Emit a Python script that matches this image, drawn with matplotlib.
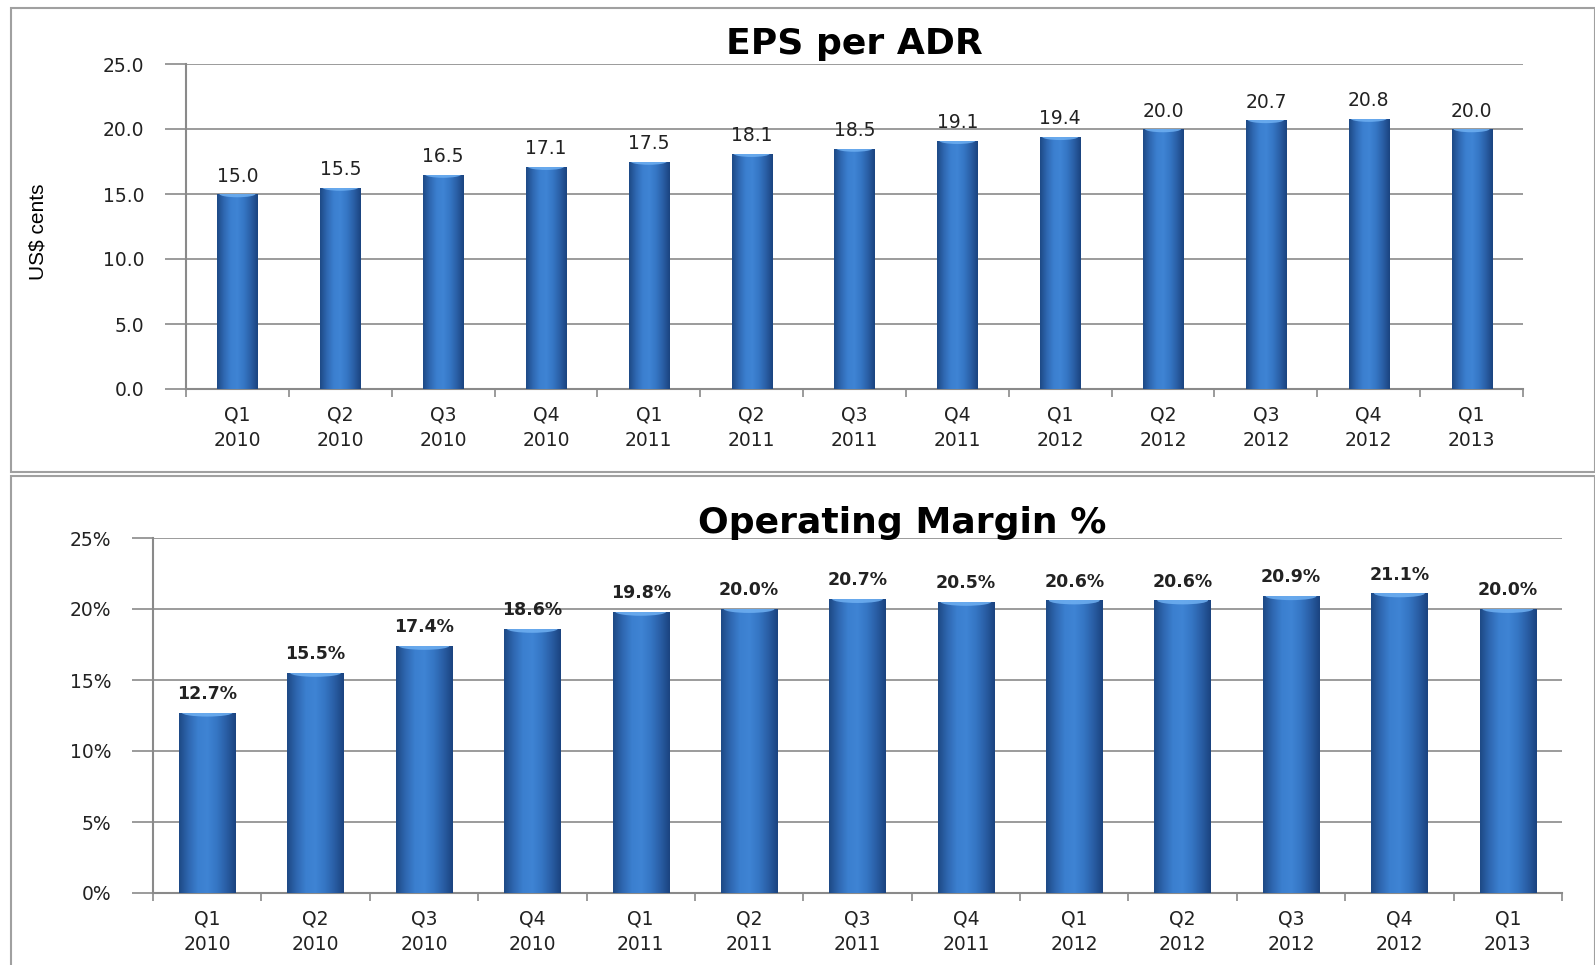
import numpy as np
import matplotlib
matplotlib.use('Agg')
import matplotlib.pyplot as plt
from matplotlib.colors import LinearSegmentedColormap
from matplotlib.patches import Rectangle, Ellipse
from matplotlib.ticker import FuncFormatter

# Data
quarters = ['Q1\n2010', 'Q2\n2010', 'Q3\n2010', 'Q4\n2010', 'Q1\n2011', 'Q2\n2011', 'Q3\n2011',
            'Q4\n2011', 'Q1\n2012', 'Q2\n2012', 'Q3\n2012', 'Q4\n2012', 'Q1\n2013']
eps = [15.0, 15.5, 16.5, 17.1, 17.5, 18.1, 18.5, 19.1, 19.4, 20.0, 20.7, 20.8, 20.0]
op_margin = [12.7, 15.5, 17.4, 18.6, 19.8, 20.0, 20.7, 20.5, 20.6, 20.6, 20.9, 21.1, 20.0]

plt.rcParams['font.family'] = ['DejaVu Sans']

# horizontal shading so the bars look like the cylinder style of the original
bar_cmap = LinearSegmentedColormap.from_list(
    'cyl', ['#1e4a86', '#2f68b2', '#3b7fcf', '#3f84d4', '#3576c4', '#2a5fa6', '#1b4480'])
grad = np.linspace(0, 1, 64).reshape(1, -1)


def shade_bars(ax, bars, cap_h):
    for b in bars:
        x0, y0 = b.get_x(), b.get_y()
        w, h = b.get_width(), b.get_height()
        im = ax.imshow(grad, cmap=bar_cmap, aspect='auto', extent=(x0, x0 + w, y0, y0 + h),
                       zorder=3, interpolation='bicubic')
        im.set_clip_path(b)
        # lighter cap at the top of each bar
        cap = Ellipse((x0 + w / 2, y0 + h), w * 0.9, cap_h, facecolor='#6fb0f2',
                      edgecolor='none', alpha=0.85, zorder=4)
        ax.add_patch(cap)
        cap.set_clip_path(b)
        b.set_facecolor('none')


def style_axes(ax, ymax, step):
    ax.set_ylim(0, ymax)
    ax.set_yticks(np.arange(0, ymax + 0.01, step))
    ax.set_xlim(-0.5, len(quarters) - 0.5)
    ax.grid(axis='y', color='#8a8a8a', linewidth=1.2, zorder=0)
    ax.set_axisbelow(True)
    for s in ['top', 'right']:
        ax.spines[s].set_visible(False)
    ax.spines['left'].set_color('#8a8a8a')
    ax.spines['left'].set_linewidth(1.5)
    ax.spines['bottom'].set_color('#8a8a8a')
    ax.spines['bottom'].set_linewidth(1.5)
    ax.tick_params(axis='y', length=15, width=1.2, color='#8a8a8a', labelsize=13.5, pad=15)
    ax.tick_params(axis='x', which='major', length=0, labelsize=13.5, pad=12)
    ax.set_xticks(range(len(quarters)))
    ax.set_xticklabels(quarters, linespacing=1.45, color='#222222')
    ax.set_xticks(np.arange(-0.5, len(quarters)), minor=True)
    ax.tick_params(axis='x', which='minor', length=6, width=1.2, color='#8a8a8a')
    for lab in ax.get_yticklabels():
        lab.set_color('#222222')


fig = plt.figure(figsize=(15.95, 9.65), dpi=100)

# panel frames
fig.patches.append(Rectangle((11 / 1595, 1 - 472 / 965), 1 - 11 / 1595, (472 - 8) / 965,
                             transform=fig.transFigure, fill=False, edgecolor='#a0a0a0', lw=1.5))
fig.patches.append(Rectangle((11 / 1595, -0.01), 1 - 11 / 1595, 1 - 476 / 965 + 0.01,
                             transform=fig.transFigure, fill=False, edgecolor='#a0a0a0', lw=1.5))

# EPS per ADR
ax1 = fig.add_axes([186 / 1595, 1 - 389 / 965, (1523 - 186) / 1595, (389 - 64) / 965])
bars1 = ax1.bar(range(len(quarters)), eps, width=0.39, color='#3a7ccc', zorder=3)
shade_bars(ax1, bars1, 0.5)
style_axes(ax1, 25, 5)
ax1.yaxis.set_major_formatter(FuncFormatter(lambda v, p: f'{v:.1f}'))
for i, v in enumerate(eps):
    ax1.annotate(f'{v:.1f}', (i, v), xytext=(0, 6), textcoords='offset points',
                 ha='center', va='bottom', fontsize=13.5, color='#222222')
ax1.set_ylabel('US$ cents', family=['Liberation Sans', 'DejaVu Sans'], fontsize=15)
ax1.yaxis.set_label_coords(-0.1035, 0.485)
fig.text(854 / 1595, 1 - 54 / 965, 'EPS per ADR', ha='center', va='baseline',
         fontsize=26, fontweight='bold', color='black')

# Operating Margin %
ax2 = fig.add_axes([153 / 1595, 1 - 893 / 965, (1562 - 153) / 1595, (893 - 538) / 965])
bars2 = ax2.bar(range(len(quarters)), op_margin, width=0.52, color='#3a7ccc', zorder=3)
shade_bars(ax2, bars2, 0.55)
style_axes(ax2, 25, 5)
ax2.yaxis.set_major_formatter(FuncFormatter(lambda v, p: f'{v:.0f}%'))
for i, v in enumerate(op_margin):
    ax2.annotate(f'{v:.1f}%', (i, v), xytext=(0, 7), textcoords='offset points',
                 ha='center', va='bottom', fontsize=12.5, fontweight='bold', color='#222222')
fig.text(902 / 1595, 1 - 533 / 965, 'Operating Margin %', ha='center', va='baseline',
         fontsize=26, fontweight='bold', color='black')

fig.savefig('out.png', dpi=100)
